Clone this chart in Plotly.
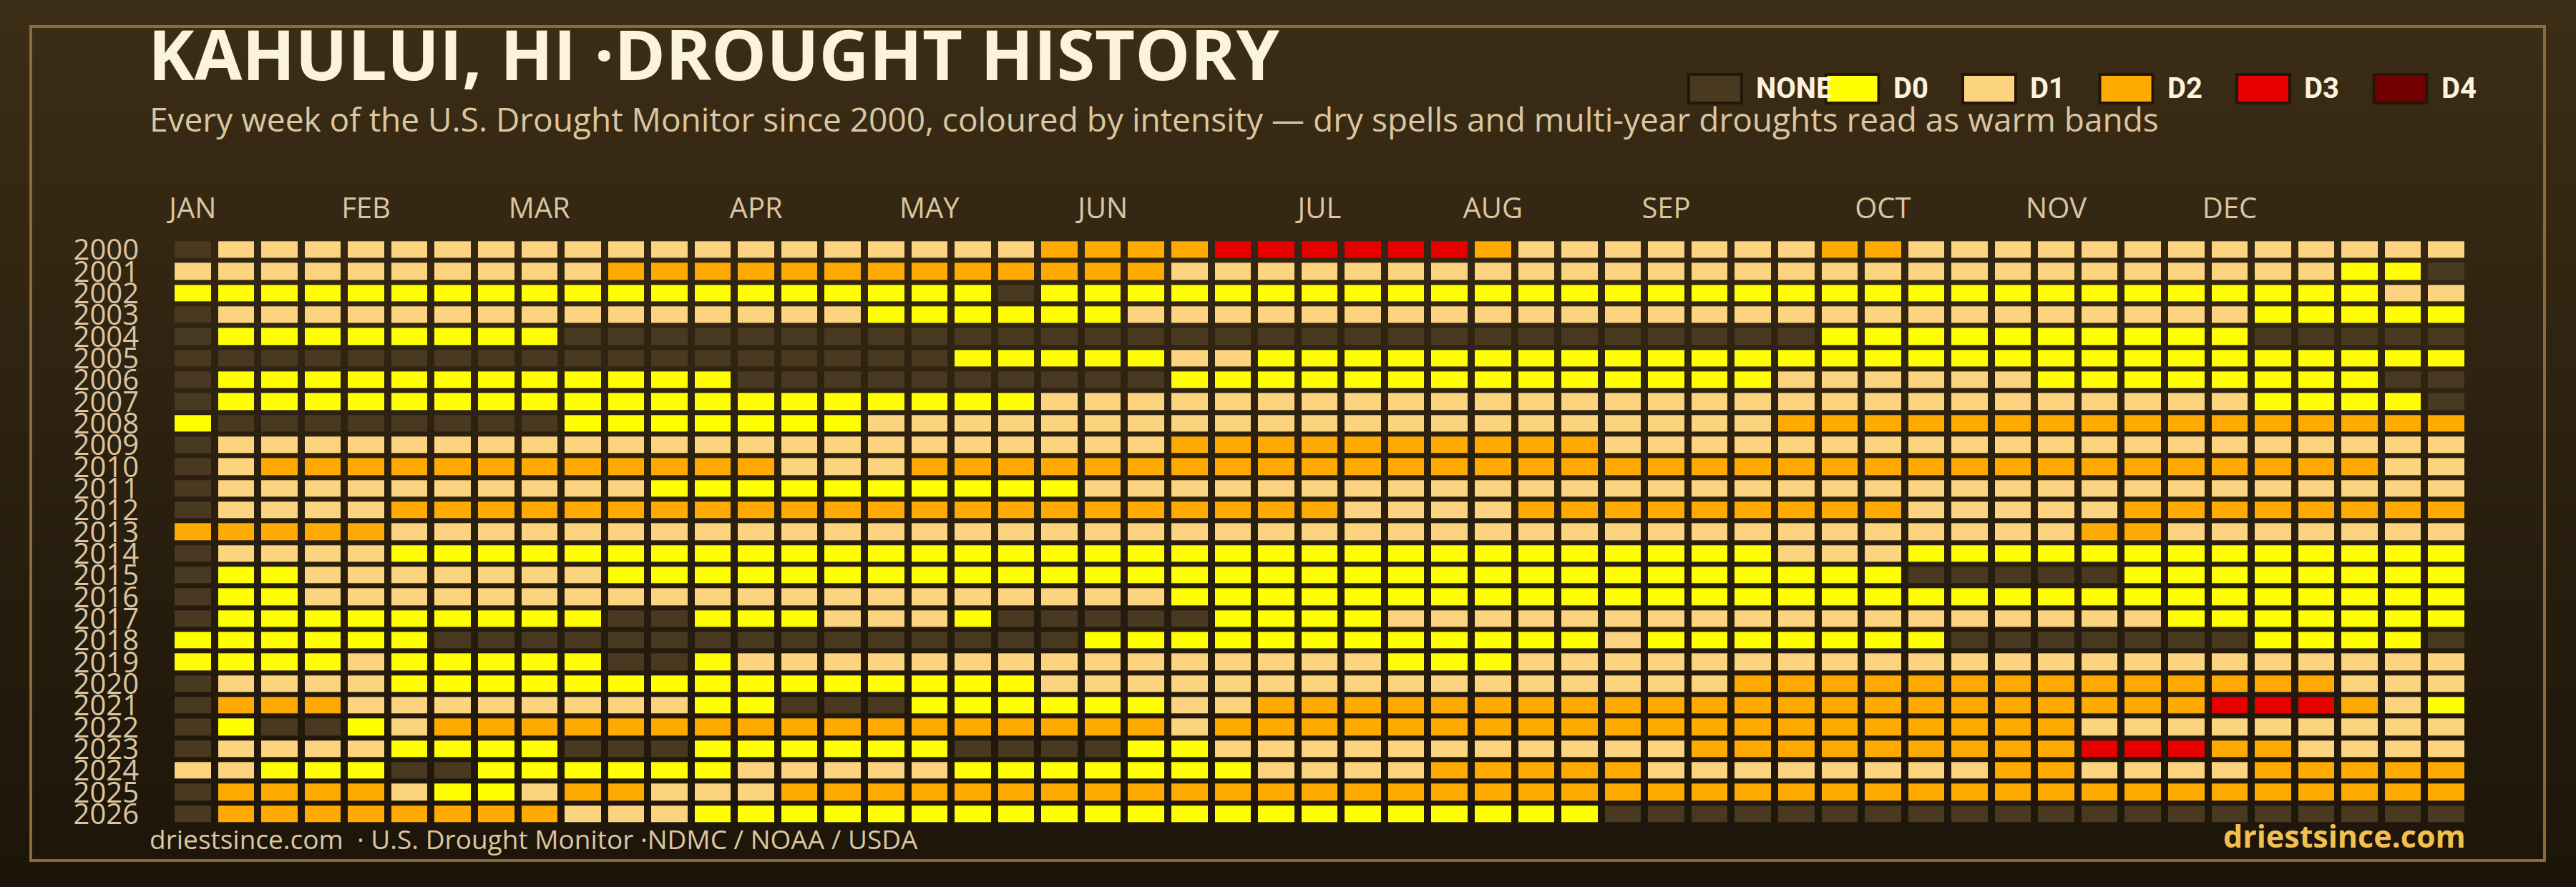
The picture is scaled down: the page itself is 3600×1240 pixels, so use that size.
import plotly.graph_objects as go

W, H = 3600, 1240

# ---------------- data ----------------
years = list(range(2000, 2027))
weeks = list(range(53))
category_labels = ["NONE", "D0", "D1", "D2", "D3", "D4"]
category_colors = ["#483920", "#FFFF00", "#FCD37F", "#FFAA00", "#E60000", "#730000"]
code_chars = ["-", "0", "1", "2", "3", "4"]   # '-' = no drought, digits = D0..D4
month_labels = ["JAN", "FEB", "MAR", "APR", "MAY", "JUN",
                "JUL", "AUG", "SEP", "OCT", "NOV", "DEC"]
month_weeks = [0, 4, 8, 13, 17, 21, 26, 30, 34, 39, 43, 47]

# one string per year, one character per week (spaces only for readability)
weekly_2000 = "- 11111 11111 11111 1111 2222 333333 2 11111 11 22 11111 11111 111"
weekly_2001 = "11111 11111 22222 22222 222 11111 11111 11111 11111 11111 11 00 -"
weekly_2002 = "00000 00000 00000 0000 - 00000 00000 00000 00000 00000 00000 0 11"
weekly_2003 = "- 11111 11111 11111 000000 11111 11111 11111 11111 11111 1 00000"
weekly_2004 = "- 00000 000 ----- ----- ----- ----- ----- ---- 00000 00000 -----"
weekly_2005 = "----- ----- ----- --- 00000 11 00000 00000 00000 00000 00000 000"
weekly_2006 = "- 00000 00000 00 ----- ----- 00000 00000 0000 111111 00000 000 --"
weekly_2007 = "- 00000 00000 00000 0000 11111 11111 11111 11111 11111 111 0000 -"
weekly_2008 = "0 ----- --- 00000 00 11111 11111 11111 11111 1 22222 22222 22222 2"
weekly_2009 = "- 11111 11111 11111 11111 11 22222 22222 11111 11111 11111 11111"
weekly_2010 = "- 1 22222 22222 22 111 22222 22222 22222 22222 22222 22222 2222 11"
weekly_2011 = "- 11111 11111 00000 00000 11111 11111 11111 11111 11111 11111 11"
weekly_2012 = "- 1111 22222 22222 22222 22222 22 1111 22222 2222 11111 22222 222"
weekly_2013 = "22222 11111 11111 11111 11111 11111 11111 11111 1111 22 11111 11"
weekly_2014 = "- 1111 00000 00000 00000 00000 00000 00000 00 111 00000 00000 000"
weekly_2015 = "- 00 11111 11 00000 00000 00000 00000 00000 00000 ----- 00000 000"
weekly_2016 = "- 00 11111 11111 11111 11111 00000 00000 00000 00000 00000 00000"
weekly_2017 = "- 00000 0000 -- 000 111 0 ----- 0000 11111 11111 11111 111 00000 00"
weekly_2018 = "00000 0 ----- ----- ----- 00000 00000 00 1 00000 00 ----- -- 0000 -"
weekly_2019 = "0000 1 00000 -- 0 11111 11111 11111 000 11111 11111 11111 11111 11"
weekly_2020 = "- 1111 00000 00000 00000 11111 11111 11111 1 22222 22222 2222 111"
weekly_2021 = "- 222 11111 111 00 --- 00000 0 11 22222 22222 22222 22222 22 333 2 1 0"
weekly_2022 = "- 0 -- 0 1 22222 22222 22222 22 1 22222 22222 22222 22222 11111 1111"
weekly_2023 = "- 1111 0000 --- 00000 0 ---- 00 11111 11111 1 22222 2222 333 22 1111"
weekly_2024 = "11 000 -- 00000 0 11111 00000 00 1111 22222 11111 111 22 1111 22222"
weekly_2025 = "- 2222 1 00 1 22 111 22222 22222 22222 22222 22222 22222 22222 2222"
weekly_2026 = "- 22222 222 111 00000 00000 00000 00000 0 ----- ----- ----- -----"

weekly = [weekly_2000, weekly_2001, weekly_2002, weekly_2003, weekly_2004,
          weekly_2005, weekly_2006, weekly_2007, weekly_2008, weekly_2009,
          weekly_2010, weekly_2011, weekly_2012, weekly_2013, weekly_2014,
          weekly_2015, weekly_2016, weekly_2017, weekly_2018, weekly_2019,
          weekly_2020, weekly_2021, weekly_2022, weekly_2023, weekly_2024,
          weekly_2025, weekly_2026]

z = [[code_chars.index(c) for c in row.replace(" ", "")] for row in weekly]
for yr, row in zip(years, z):
    assert len(row) == 53, (yr, len(row))

# ---------------- styling ----------------
FONT = "Open Sans"
LEGEND_FONT = "Roboto"
TAN = "#dcc6a0"
CREAM = "#fcf3df"
GOLD = "#f2c04e"


def px(x):
    return x / W


def py(y):
    return 1 - y / H


n = len(category_colors)
colorscale = []
for i, c in enumerate(category_colors):
    colorscale.append([i / n, c])
    colorscale.append([(i + 1) / n, c])

fig = go.Figure(go.Heatmap(
    z=z, x=weeks, y=years, zmin=0, zmax=n - 1,
    colorscale=colorscale, showscale=False,
    xgap=10, ygap=7, hoverinfo="skip",
))

shapes = []
# vertical background gradient
top_rgb = (59, 45, 22)
bot_rgb = (29, 21, 10)
stripes = 62
for i in range(stripes):
    t = i / (stripes - 1)
    c = tuple(round(a + (b - a) * t) for a, b in zip(top_rgb, bot_rgb))
    shapes.append(dict(type="rect", xref="paper", yref="paper", layer="below",
                       x0=0, x1=1, y0=1 - (i + 1) / stripes, y1=1 - i / stripes,
                       fillcolor="rgb(%d,%d,%d)" % c, line=dict(width=0)))
# gold frame
shapes.append(dict(type="rect", xref="paper", yref="paper", layer="below",
                   x0=px(43), x1=px(3556), y0=py(1203), y1=py(37),
                   line=dict(color="#8a6d36", width=4), fillcolor="rgba(0,0,0,0)"))

annotations = []
# legend (swatches + labels)
leg_x0, leg_pitch, sw_w = 2360, 191.5, 74
for i, (lab, col) in enumerate(zip(category_labels, category_colors)):
    x0 = leg_x0 + i * leg_pitch
    shapes.append(dict(type="rect", xref="paper", yref="paper", layer="below",
                       x0=px(x0), x1=px(x0 + sw_w), y0=py(144), y1=py(104),
                       fillcolor=col, line=dict(color="#22180a", width=4)))
    annotations.append(dict(text=lab, xref="paper", yref="paper",
                            x=px(x0 + sw_w + 18), y=py(124), xanchor="left", yanchor="middle",
                            showarrow=False,
                            font=dict(family=LEGEND_FONT, size=40, color=CREAM, weight=700)))

# title + subtitle
annotations.append(dict(text="KAHULUI, HI ·DROUGHT HISTORY", xref="paper", yref="paper",
                        x=px(205), y=py(74), xanchor="left", yanchor="middle", showarrow=False,
                        font=dict(family=FONT, size=97, color=CREAM, weight=700)))
annotations.append(dict(text="Every week of the U.S. Drought Monitor since 2000, coloured by intensity — "
                             "dry spells and multi-year droughts read as warm bands",
                        xref="paper", yref="paper", x=px(207), y=py(166),
                        xanchor="left", yanchor="middle", showarrow=False,
                        font=dict(family=FONT, size=46, color=TAN)))
# footer
annotations.append(dict(text="driestsince.com  · U.S. Drought Monitor ·NDMC / NOAA / USDA",
                        xref="paper", yref="paper", x=px(207), y=py(1172),
                        xanchor="left", yanchor="middle", showarrow=False,
                        font=dict(family=FONT, size=37, color=TAN)))
annotations.append(dict(text="driestsince.com", xref="paper", yref="paper",
                        x=px(3448), y=py(1168), xanchor="right", yanchor="middle",
                        showarrow=False,
                        font=dict(family=FONT, size=43, color=GOLD, weight=700)))

fig.update_layout(
    width=W, height=H, autosize=False,
    margin=dict(l=0, r=0, t=0, b=0),
    paper_bgcolor="#1d150a", plot_bgcolor="rgba(0,0,0,0)",
    shapes=shapes, annotations=annotations, showlegend=False,
    xaxis=dict(domain=[px(239), px(3449)], range=[-0.5, 52.5], side="top",
               tickmode="array", tickvals=month_weeks, ticktext=month_labels,
               ticks="", showgrid=False, zeroline=False, showline=False,
               automargin=False, ticklabelstandoff=20,
               tickfont=dict(family=FONT, size=40, color=TAN)),
    yaxis=dict(domain=[py(1153.3), py(334.3)], range=[2026.5, 1999.5],
               tickmode="array", tickvals=years, ticktext=[str(y) for y in years],
               ticks="", showgrid=False, zeroline=False, showline=False,
               automargin=False, ticklabelstandoff=44,
               tickfont=dict(family=FONT, size=40, color=TAN)),
)

fig.write_html(
    "out.html",
    config={"displayModeBar": False},
    post_script="document.body.style.margin='0';document.body.style.background='#1d150a';",
)
